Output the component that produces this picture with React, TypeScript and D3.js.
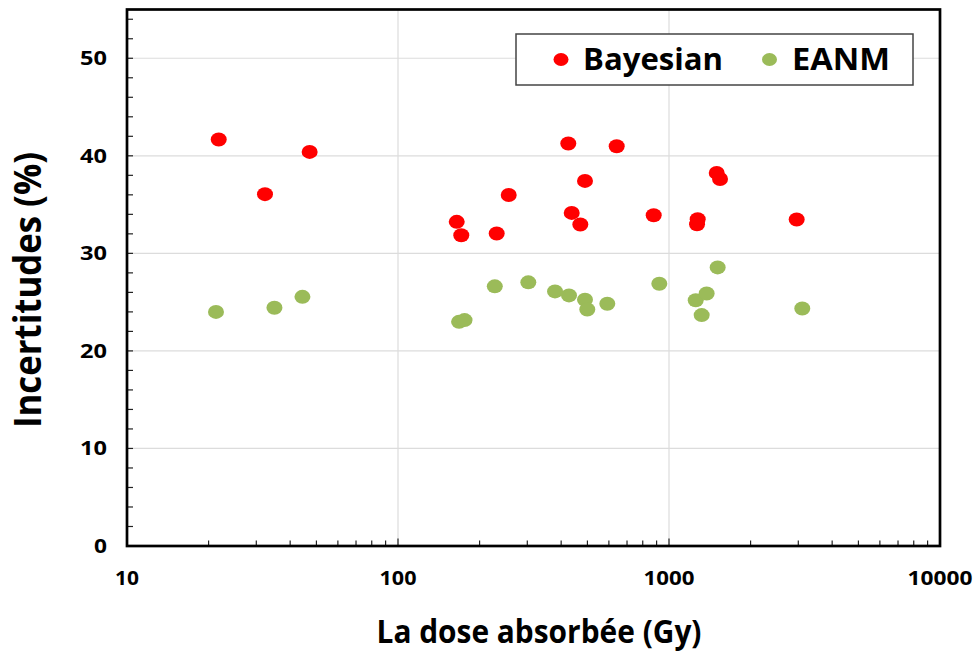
import React from "react";
import * as d3 from "d3";

const bayesianDose = [21.8, 32.3, 47.2, 164.7, 171.2, 231.3, 256.2, 425, 437.5, 470.7, 489.8, 641.2, 878, 1276, 1269, 1500, 1543, 2959];
const bayesianUnc = [41.67, 36.07, 40.4, 33.23, 31.86, 32.04, 35.99, 41.26, 34.15, 32.96, 37.43, 40.98, 33.91, 33.5, 32.99, 38.25, 37.63, 33.47];

const eanmDose = [21.3, 35.0, 44.4, 168, 176, 227.6, 302.6, 379.7, 427.6, 489.8, 499.4, 592, 921, 1255, 1320, 1377, 1512, 3103];
const eanmUnc = [24.0, 24.42, 25.54, 22.98, 23.16, 26.62, 27.03, 26.1, 25.69, 25.25, 24.25, 24.83, 26.88, 25.2, 23.67, 25.89, 28.56, 24.35];

const xTickValues = [10, 100, 1000, 10000];
const xTickLabels = ["10", "100", "1000", "10000"];
const yTickValues = [0, 10, 20, 30, 40, 50];
const yTickLabels = ["0", "10", "20", "30", "40", "50"];

const seriesNames = ["Bayesian", "EANM"];
const seriesColors = ["#ff0000", "#9bbb59"];

const W = 978;
const H = 651;
const SX = 1.15;
const FONT = "'Open Sans', 'DejaVu Sans', sans-serif";

function Txt({ x, y, text, size, anchor = "start", len }: { x: number; y: number; text: string; size: number; anchor?: string; len?: number }) {
  return (
    <text
      transform={`translate(${x},${y}) scale(${SX},1)`}
      textAnchor={anchor}
      fontSize={size}
      fontWeight={700}
      fontFamily={FONT}
      fill="#000"
      textLength={len ? len / SX : undefined}
      lengthAdjust={len ? "spacingAndGlyphs" : undefined}
    >
      {text}
    </text>
  );
}

export default function App() {
  const left = 127, right = 940, top = 9.5, bottom = 546;
  const x = d3.scaleLog().domain([10, 10000]).range([left, right]);
  const y = d3.scaleLinear().domain([0, 55]).range([bottom, top]);

  const minorX: number[] = [];
  for (const dec of [10, 100, 1000]) for (let k = 2; k <= 9; k++) minorX.push(dec * k);
  const minorY = d3.range(2, 55, 2).filter((v) => v % 10 !== 0);

  const bayes = bayesianDose.map((d, i) => [d, bayesianUnc[i]]);
  const eanm = eanmDose.map((d, i) => [d, eanmUnc[i]]);

  const xLabelLen = [24, 37, 51, 65];
  const yLabelLen = [13, 27, 27, 27, 27, 27];

  return (
    <svg width={W} height={H} style={{ position: "absolute", left: 0, top: 0, background: "#fff" }}>
      <rect x={0} y={0} width={W} height={H} fill="#fff" />
      {/* gridlines */}
      {yTickValues.filter((v) => v > 0).map((v) => (
        <line key={"gy" + v} x1={left} x2={right} y1={y(v)} y2={y(v)} stroke="#dcdcdc" strokeWidth={1.2} />
      ))}
      {[100, 1000].map((v) => (
        <line key={"gx" + v} x1={x(v)} x2={x(v)} y1={top} y2={bottom} stroke="#dcdcdc" strokeWidth={1.2} />
      ))}
      {/* ticks */}
      {minorY.map((v) => (
        <line key={"my" + v} x1={left} x2={left + 6} y1={y(v)} y2={y(v)} stroke="#222" strokeWidth={1.2} />
      ))}
      {yTickValues.map((v) => (
        <line key={"ty" + v} x1={left} x2={left + 6} y1={y(v)} y2={y(v)} stroke="#222" strokeWidth={1.2} />
      ))}
      {minorX.map((v) => (
        <line key={"mx" + v} x1={x(v)} x2={x(v)} y1={bottom} y2={bottom - 5.5} stroke="#222" strokeWidth={1.2} />
      ))}
      {[100, 1000].map((v) => (
        <line key={"tx" + v} x1={x(v)} x2={x(v)} y1={bottom} y2={bottom - 7.5} stroke="#222" strokeWidth={1.2} />
      ))}
      {/* frame */}
      <rect x={left} y={top} width={right - left} height={bottom - top} fill="none" stroke="#000" strokeWidth={2.7} />

      {/* data */}
      {eanm.map((p, i) => (
        <ellipse key={"e" + i} cx={x(p[0])} cy={y(p[1])} rx={8} ry={7} fill={seriesColors[1]} />
      ))}
      {bayes.map((p, i) => (
        <ellipse key={"b" + i} cx={x(p[0])} cy={y(p[1])} rx={8} ry={7} fill={seriesColors[0]} />
      ))}

      {/* tick labels */}
      {xTickValues.map((v, i) => (
        <Txt key={"xl" + v} x={x(v)} y={585} text={xTickLabels[i]} size={19} anchor="middle" len={xLabelLen[i]} />
      ))}
      {yTickValues.map((v, i) => (
        <Txt key={"yl" + v} x={107} y={y(v) + 7} text={yTickLabels[i]} size={19} anchor="end" len={yLabelLen[i]} />
      ))}

      {/* axis titles */}
      <Txt x={539} y={643} text="La dose absorbée (Gy)" size={32} anchor="middle" len={325} />
      <text
        transform={`translate(40.5,290) scale(${SX},1) rotate(-90)`}
        textAnchor="middle"
        fontSize={32}
        fontWeight={700}
        fontFamily={FONT}
        textLength={276}
        lengthAdjust="spacingAndGlyphs"
      >
        Incertitudes (%)
      </text>

      {/* legend */}
      <rect x={516} y={34} width={397} height={51} fill="#fff" stroke="#444" strokeWidth={1.5} />
      <ellipse cx={561} cy={59.5} rx={7.5} ry={6.5} fill={seriesColors[0]} />
      <Txt x={583} y={70} text={seriesNames[0]} size={30} len={140} />
      <ellipse cx={769.5} cy={59.5} rx={7.5} ry={6.5} fill={seriesColors[1]} />
      <Txt x={792} y={70} text={seriesNames[1]} size={30} len={98} />
    </svg>
  );
}
